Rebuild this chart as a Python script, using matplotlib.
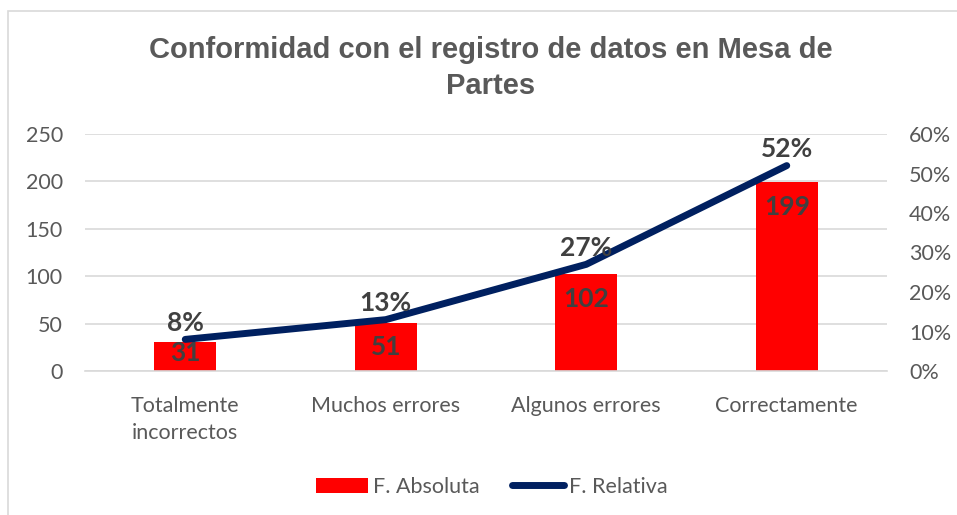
import matplotlib.pyplot as plt
from matplotlib.patches import Rectangle
from matplotlib.ticker import FuncFormatter

categorias = ["Totalmente\nincorrectos", "Muchos errores", "Algunos errores", "Correctamente"]
f_absoluta = [31, 51, 102, 199]
f_relativa = [0.08, 0.13, 0.27, 0.52]

rojo = "#FF0000"
azul = "#002060"
gris_txt = "#595959"
gris_lbl = "#404040"

plt.rcParams['font.family'] = ['Lato', 'DejaVu Sans']

fig = plt.figure(figsize=(9.57, 5.15), dpi=100)
# borde del area del grafico
fig.patches.append(Rectangle((8 / 957, -0.1), 1.2, 1 - 11 / 515 + 0.1, transform=fig.transFigure,
                             fill=False, edgecolor="#D9D9D9", linewidth=1.2))

ax = fig.add_axes([85 / 957, 1 - 371 / 515, 802 / 957, 237 / 515])
ax2 = ax.twinx()

x = list(range(len(categorias)))
ax.bar(x, f_absoluta, width=0.31, color=rojo, zorder=2, label="F. Absoluta")
ax.set_ylim(0, 250)
ax.set_yticks(range(0, 251, 50))
ax.set_xlim(-0.5, 3.5)
ax.set_xticks(x)
ax.set_xticklabels(categorias, fontsize=15.5, color=gris_txt, linespacing=1.45)
ax.grid(axis='y', color="#D9D9D9", linewidth=1.2, zorder=0)
ax.set_axisbelow(True)
ax.tick_params(axis='y', length=0, labelsize=15.5, labelcolor=gris_txt, pad=16)
ax.tick_params(axis='x', length=0, pad=18)
for s in ax.spines.values():
    s.set_visible(False)
ax.spines['bottom'].set_visible(True)
ax.spines['bottom'].set_color("#D9D9D9")
ax.spines['bottom'].set_linewidth(1.2)

for xi, v in zip(x, f_absoluta):
    ax.text(xi, max(v - 26, 19), str(v), ha='center', va='center',
            fontsize=19, fontweight='bold', color=gris_lbl, zorder=4)

ax2.plot(x, f_relativa, color=azul, linewidth=5, solid_capstyle='round',
         solid_joinstyle='round', zorder=3, label="F. Relativa")
ax2.set_ylim(0, 0.6)
ax2.set_yticks([i / 10 for i in range(7)])
ax2.yaxis.set_major_formatter(FuncFormatter(lambda v, p: f"{v * 100:.0f}%"))
ax2.tick_params(axis='y', length=0, labelsize=15.5, labelcolor=gris_txt, pad=16)
for s in ax2.spines.values():
    s.set_visible(False)

for xi, v in zip(x, f_relativa):
    ax2.annotate(f"{v * 100:.0f}%", (xi, v), xytext=(0, 12), textcoords='offset points',
                 ha='center', va='center', fontsize=19, fontweight='bold', color=gris_lbl)

fig.text(491 / 957, 1 - 68 / 515, "Conformidad con el registro de datos en Mesa de\nPartes",
         ha='center', va='center', fontsize=21, fontweight='bold', color=gris_txt,
         family=['Liberation Sans', 'DejaVu Sans'], linespacing=1.35)

h1, l1 = ax.get_legend_handles_labels()
h2, l2 = ax2.get_legend_handles_labels()
fig.legend(h1 + h2, l1 + l2, loc='center', bbox_to_anchor=(492 / 957, 1 - 487 / 515), ncol=2,
           frameon=False, fontsize=15.5, labelcolor=gris_txt, handlelength=2.4,
           handleheight=0.7, handletextpad=0.25, columnspacing=1.5)

fig.savefig("out.png", dpi=100)
